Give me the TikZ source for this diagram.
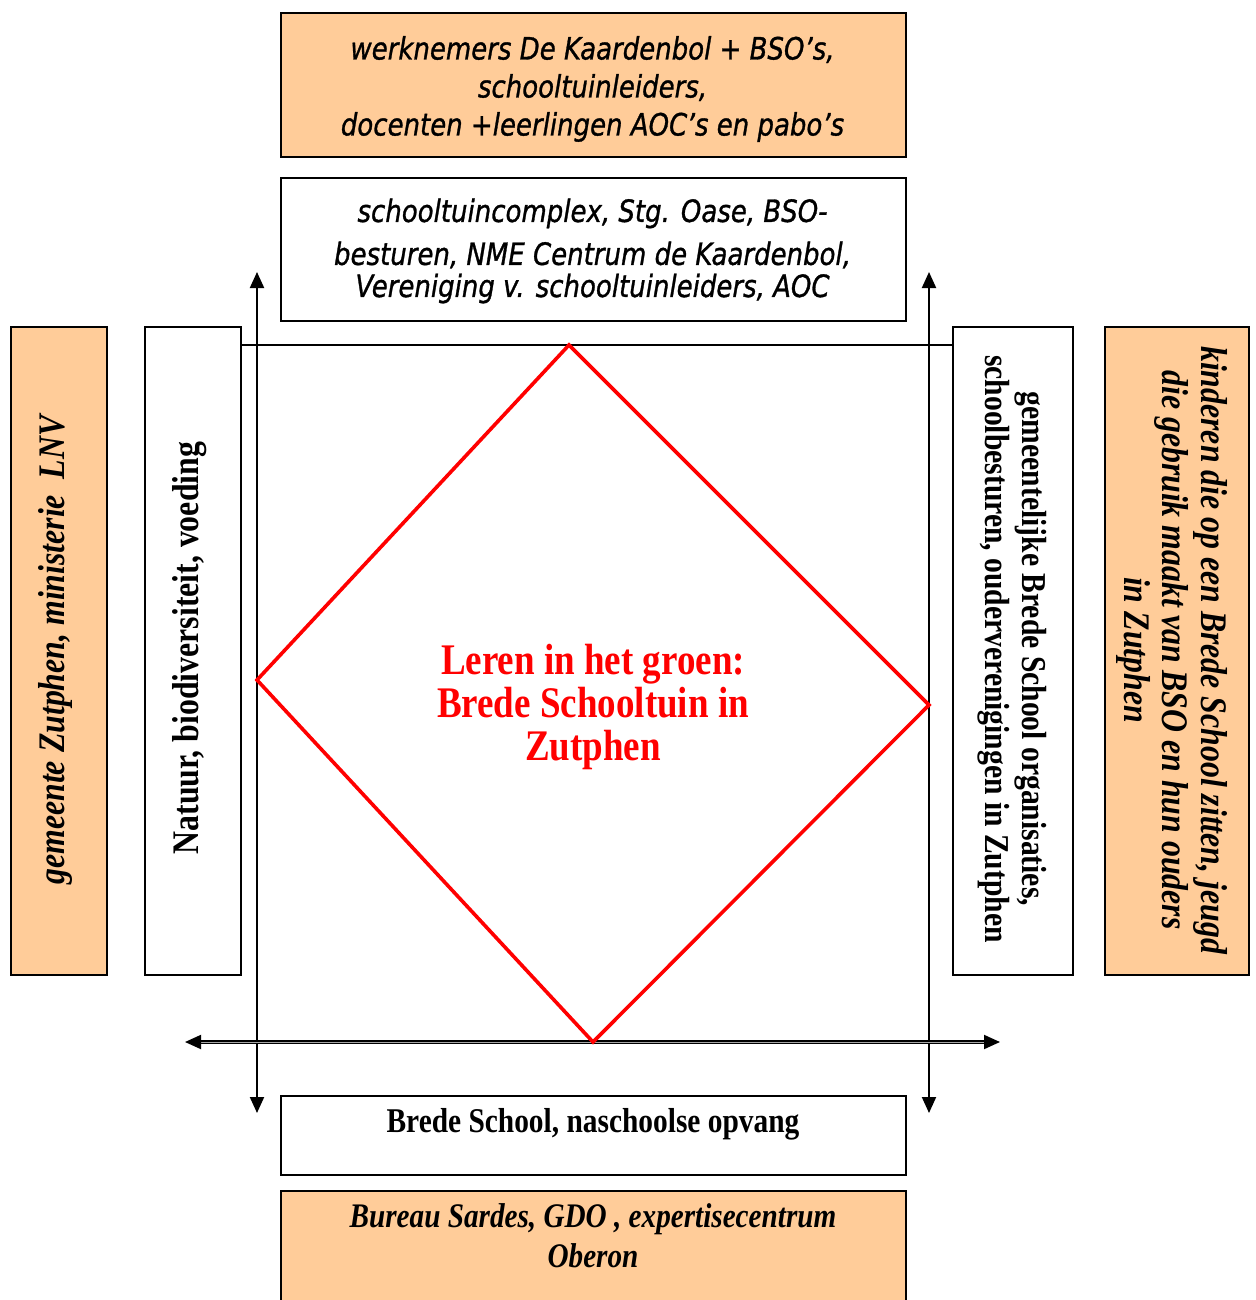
\documentclass[tikz,border=0pt]{standalone}
\usepackage{fontspec}
\setmainfont{Liberation Serif}
\newfontfamily\sansfam{DejaVu Sans}[BoldItalicFont={DejaVu Sans Oblique}, BoldItalicFeatures={FakeBold=1.1}]
\usepackage{graphicx}
\usetikzlibrary{arrows.meta}
\definecolor{peach}{RGB}{255,204,153}
\newcommand{\tallx}[1]{\scalebox{1}[1.18]{#1}}
\newcommand{\cstack}[1]{\vbox{\halign{\hfil##\hfil\cr #1\crcr}}}
\begin{document}
\begin{tikzpicture}[x=0.5pt,y=-0.5pt,
  box/.style={draw=black, line width=0.9pt, inner sep=0pt, anchor=north west},
  pbox/.style={box, fill=peach},
  wbox/.style={box, fill=white},
  lbl/.style={inner sep=0pt, anchor=center},
  axis/.style={line width=1pt, {Triangle[width=7pt,length=8pt]}-{Triangle[width=7pt,length=8pt]}},
  daxis/.style={line width=0.95pt, double=gray!70, double distance=0.35pt, {Triangle[width=7pt,length=8pt]}-{Triangle[width=7pt,length=8pt]}},
  thinline/.style={line width=0.9pt},
  ruit/.style={draw=red, line width=1.8pt, line join=miter}
]
\path[use as bounding box, clip] (0,0) rectangle (1256,1300);
\fill[white] (0,0) rectangle (1256,1300);

% boxes
\node[pbox, minimum width=312.5pt, minimum height=72pt] (tp) at (280,12) {};
\node[wbox, minimum width=312.5pt, minimum height=71.5pt] (tw) at (280,177) {};
\node[pbox, minimum width=48pt, minimum height=324pt] (lp) at (10,326) {};
\node[wbox, minimum width=48pt, minimum height=324pt] (lw) at (144,326) {};
\node[wbox, minimum width=60pt, minimum height=324pt] (rw) at (952,326) {};
\node[pbox, minimum width=72pt, minimum height=324pt] (rp) at (1104,326) {};
\node[wbox, minimum width=312.5pt, minimum height=39.5pt] (bw) at (280,1095) {};
\node[pbox, minimum width=312.5pt, minimum height=70pt] (bp) at (280,1190) {};

% coordinates
\coordinate (TL) at (257,345);
\coordinate (TR) at (929,345);
\coordinate (vlt) at (257,272);
\coordinate (vlb) at (257,1113);
\coordinate (vrt) at (929,272);
\coordinate (vrb) at (929,1113);
\coordinate (hl) at (185,1042);
\coordinate (hr) at (1000,1042);
\coordinate (dT) at (569,345);
\coordinate (dR) at (929,705);
\coordinate (dB) at (593,1042);
\coordinate (dL) at (257,680);

% connectors
\draw[thinline] (lw.east |- TL) -- (rw.west |- TR);
\draw[axis] (vlt) -- (vlb);
\draw[axis] (vrt) -- (vrb);
\draw[daxis] (hl) -- (hr);
\draw[ruit] (dT) -- (dR) -- (dB) -- (dL) -- cycle;

% texts
\node[lbl] (ttp) at (592.5,89) {\tallx{\sansfam\bfseries\itshape\fontsize{13}{16.1}\selectfont\cstack{werknemers De Kaardenbol + BSO’s,\cr schooltuinleiders,\cr docenten +leerlingen AOC’s en pabo’s}}};
\node[lbl] (ttw) at (592.5,251) {\tallx{\sansfam\bfseries\itshape\fontsize{13}{13.6}\selectfont\cstack{schooltuincomplex, Stg. Oase, BSO-\cr\noalign{\vskip4.6pt} besturen, NME Centrum de Kaardenbol,\cr Vereniging v. schooltuinleiders, AOC}}};
\node[lbl, rotate=90] (tlp) at (55,650) {\tallx{\bfseries\itshape\fontsize{15.9}{18}\selectfont gemeente Zutphen, ministerie\ \ LNV}};
\node[lbl, rotate=90] (tlw) at (190,648) {\tallx{\bfseries\fontsize{15.9}{18}\selectfont Natuur, biodiversiteit, voeding}};
\node[lbl, rotate=-90] (trw) at (1012,649) {\tallx{\bfseries\fontsize{14.8}{15.7}\selectfont\cstack{gemeentelijke Brede School organisaties,\cr schoolbesturen, ouderverenigingen in Zutphen}}};
\node[lbl, rotate=-90] (trp) at (1172,650) {\tallx{\bfseries\itshape\fontsize{15.9}{16.3}\selectfont\cstack{kinderen die op een Brede School zitten, jeugd\cr die gebruik maakt van BSO en hun ouders\cr in Zutphen}}};
\node[lbl] (tbw) at (593,1124) {\tallx{\bfseries\fontsize{14.7}{17}\selectfont Brede School, naschoolse opvang}};
\node[lbl] (tbp) at (593,1236) {\tallx{\bfseries\itshape\fontsize{14.6}{17}\selectfont\cstack{Bureau Sardes, GDO , expertisecentrum\cr Oberon}}};
\node[lbl, text=red] (tc) at (593,707) {\tallx{\bfseries\fontsize{18.5}{18.2}\selectfont\cstack{Leren in het groen:\cr Brede Schooltuin in\cr Zutphen}}};
\end{tikzpicture}
\end{document}
